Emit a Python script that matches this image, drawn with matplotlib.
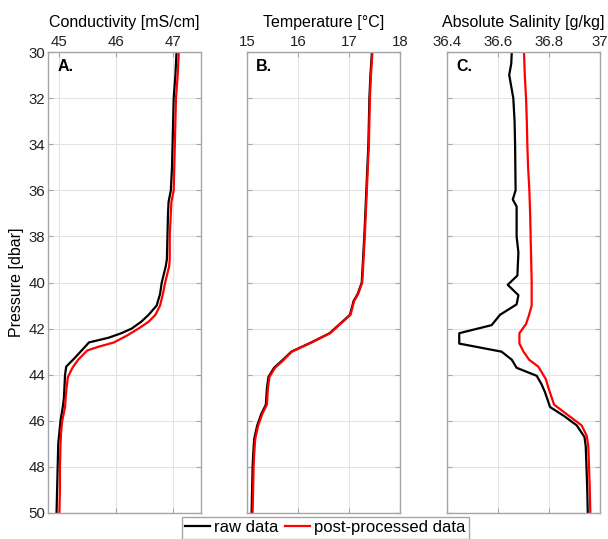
import matplotlib
matplotlib.use("Agg")
import matplotlib.pyplot as plt
from matplotlib.lines import Line2D

plt.rcParams['font.family'] = ['Liberation Sans', 'DejaVu Sans']

# panel A: conductivity [mS/cm]
pa_raw = [30, 31, 32, 33, 34, 35, 36, 36.5, 37, 38, 39, 39.3, 40, 40.5, 41, 41.4, 41.7,
          42.0, 42.2, 42.4, 42.6, 42.9, 43.3, 43.65, 44.0, 44.5, 45.0, 45.4, 46.0, 46.5,
          47, 48, 49, 50]
ca_raw = [47.07, 47.05, 47.02, 47.01, 47.00, 46.99, 46.97, 46.93, 46.92, 46.91, 46.90,
          46.88, 46.81, 46.78, 46.72, 46.58, 46.45, 46.28, 46.10, 45.87, 45.53, 45.42,
          45.27, 45.13, 45.11, 45.10, 45.09, 45.07, 45.03, 45.01, 44.99, 44.98, 44.97, 44.96]
pa_proc = [30, 31, 32, 33, 34, 35, 36, 36.5, 37, 38, 39, 39.3, 40, 40.5, 41, 41.4, 41.7,
           42.0, 42.3, 42.6, 42.8, 42.95, 43.35, 43.7, 44.1, 44.5, 45.0, 45.4, 46.0, 46.5,
           47, 48, 49, 50]
ca_proc = [47.11, 47.09, 47.06, 47.05, 47.04, 47.03, 47.02, 46.98, 46.97, 46.95, 46.95,
           46.94, 46.87, 46.83, 46.78, 46.70, 46.58, 46.40, 46.20, 45.97, 45.68, 45.50,
           45.34, 45.24, 45.16, 45.14, 45.12, 45.11, 45.06, 45.04, 45.03, 45.02, 45.02, 45.01]

# panel B: temperature [degC]
pb = [30, 31, 32, 34, 36, 38, 40, 40.5, 40.8, 41.4, 42.2, 42.6, 43.0, 43.4, 43.7, 44.1,
      44.6, 45.3, 45.7, 46.2, 46.8, 47.5, 48, 49, 50]
tb_proc = [17.46, 17.43, 17.41, 17.39, 17.35, 17.31, 17.26, 17.18, 17.10, 17.03, 16.63,
           16.27, 15.88, 15.70, 15.55, 15.44, 15.41, 15.39, 15.30, 15.22, 15.16, 15.14,
           15.13, 15.12, 15.11]
tb_raw = [17.45, 17.42, 17.40, 17.38, 17.34, 17.30, 17.25, 17.17, 17.09, 17.02, 16.62,
          16.26, 15.87, 15.68, 15.53, 15.42, 15.39, 15.37, 15.28, 15.20, 15.14, 15.12,
          15.11, 15.10, 15.09]

# panel C: absolute salinity [g/kg]
pc_raw = [30, 30.5, 31, 31.5, 32, 33, 34, 35, 36, 36.4, 36.7, 37, 38, 38.7, 39.7, 40.1,
          40.55, 40.95, 41.4, 41.85, 42.2, 42.65, 43.0, 43.35, 43.7, 44.05, 44.4, 44.75,
          45.4, 45.8, 46.2, 46.7, 47.1, 48, 49, 50]
sc_raw = [36.654, 36.652, 36.644, 36.652, 36.660, 36.665, 36.667, 36.668, 36.669, 36.658,
          36.673, 36.673, 36.673, 36.680, 36.676, 36.638, 36.680, 36.673, 36.608, 36.575,
          36.448, 36.448, 36.614, 36.654, 36.673, 36.752, 36.770, 36.784, 36.804, 36.860,
          36.909, 36.939, 36.944, 36.947, 36.950, 36.952]
pc_proc = [30, 31, 32, 33, 34, 35, 36, 37, 38, 39, 39.9, 41.0, 41.4, 41.8, 42.2, 42.65,
           43.0, 43.35, 43.65, 44.2, 44.55, 45.3, 45.8, 46.2, 46.65, 47.1, 48, 49, 50]
sc_proc = [36.702, 36.705, 36.710, 36.713, 36.715, 36.718, 36.723, 36.726, 36.728, 36.730,
           36.732, 36.732, 36.722, 36.710, 36.684, 36.684, 36.700, 36.722, 36.758, 36.788,
           36.797, 36.820, 36.880, 36.928, 36.948, 36.954, 36.957, 36.960, 36.962]

titles = ['Conductivity [mS/cm]', 'Temperature [°C]', 'Absolute Salinity [g/kg]']
tags = ['A.', 'B.', 'C.']
xlims = [(44.81, 47.5), (15, 18), (36.4, 37)]
xticks = [[45, 46, 47], [15, 16, 17, 18], [36.4, 36.6, 36.8, 37]]
xticklabels = [['45', '46', '47'], ['15', '16', '17', '18'],
               ['36.4', '36.6', '36.8', '37']]
yticks = list(range(30, 51, 2))

series = [((pa_raw, ca_raw), (pa_proc, ca_proc)),
          ((pb, tb_raw), (pb, tb_proc)),
          ((pc_raw, sc_raw), (pc_proc, sc_proc))]

fig = plt.figure(figsize=(6.08, 5.39), dpi=100)
lefts = [48 / 608, 247 / 608, 447 / 608]
w = 153 / 608
bottom = 1 - 513 / 539
h = 461 / 539
spine_c = '#a6a6a6'

for i in range(3):
    ax = fig.add_axes([lefts[i], bottom, w, h])
    (pr, vr), (pp, vp) = series[i]
    ax.plot(vr, pr, color='black', lw=1.6)
    ax.plot(vp, pp, color='red', lw=1.6)
    ax.set_xlim(*xlims[i])
    ax.set_ylim(50, 30)
    ax.set_xticks(xticks[i])
    ax.set_xticklabels(xticklabels[i])
    ax.set_yticks(yticks)
    ax.grid(True, color='#e3e3e3', lw=0.8)
    ax.set_axisbelow(True)
    ax.tick_params(direction='in', top=True, bottom=True, left=True, right=True,
                   labeltop=True, labelbottom=False, length=3.5, color=spine_c,
                   labelsize=10.8, labelcolor='#222222', pad=2)
    if i > 0:
        ax.tick_params(labelleft=False)
    else:
        ax.set_ylabel('Pressure [dbar]', fontsize=11.5, labelpad=3)
    ax.xaxis.set_label_position('top')
    ax.set_xlabel(titles[i], fontsize=11.5, labelpad=6)
    for s in ax.spines.values():
        s.set_color(spine_c)
        s.set_linewidth(1.0)
    ax.text(0.06, 0.985, tags[i], transform=ax.transAxes, fontsize=11.5,
            fontweight='bold', va='top', ha='left')

handles = [Line2D([], [], color='black', lw=1.6), Line2D([], [], color='red', lw=1.6)]
fig.legend(handles, ['raw data', 'post-processed data'], loc='upper center',
           bbox_to_anchor=(0.535, 1 - 517 / 539), ncol=2, fontsize=12, frameon=True,
           fancybox=False, edgecolor=spine_c, framealpha=1, handlelength=1.5,
           handletextpad=0.25, columnspacing=0.4, borderpad=0.2, borderaxespad=0)

fig.savefig('out.png', dpi=100)
